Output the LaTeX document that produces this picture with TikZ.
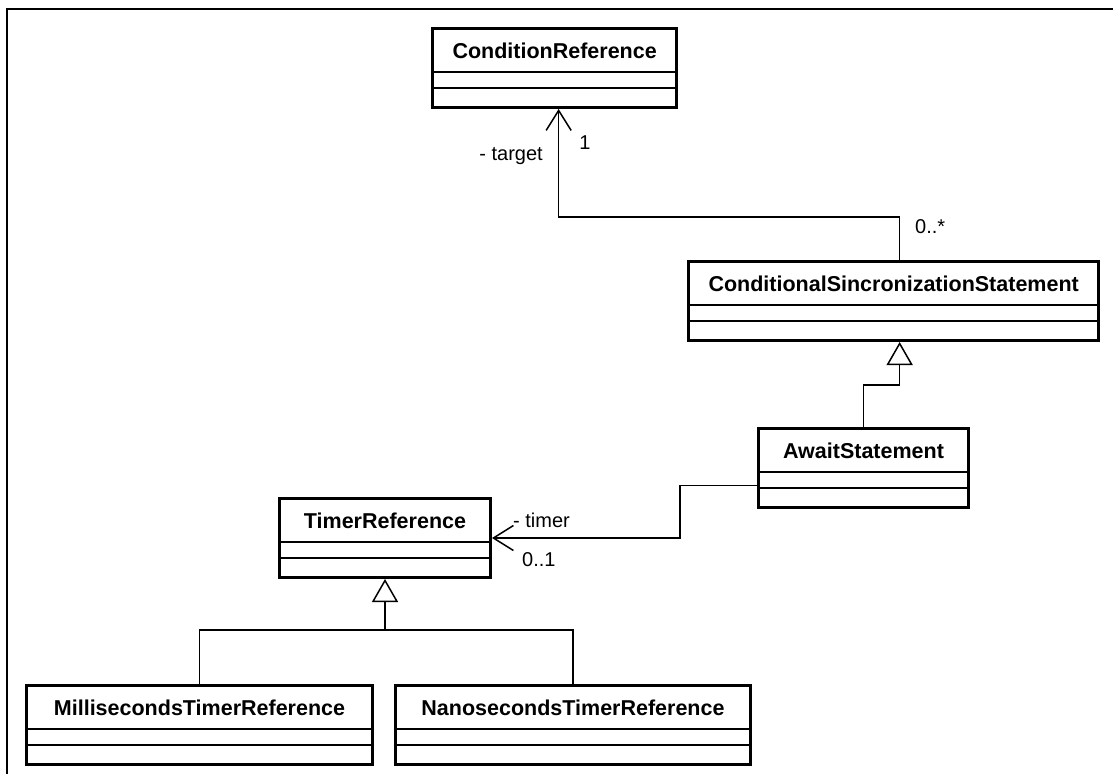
\documentclass[tikz,border=0pt]{standalone}
\usepackage{fontspec}
\setmainfont{Liberation Sans}
\usetikzlibrary{calc,arrows.meta}

\begin{document}
\begin{tikzpicture}[x=1pt,y=-1pt,
    classbox/.style={draw,line width=3pt,anchor=north west,inner xsep=20pt,inner ysep=0pt,
      text height=29.5pt,text depth=49.5pt,font=\fontsize{21.5}{24}\selectfont\bfseries},
    lbl/.style={font=\fontsize{20}{24}\selectfont,inner sep=0pt},
    assoc/.style={line width=1.5pt,-{Straight Barb[length=20pt,width=25pt,line width=1.5pt]}},
    gen/.style={line width=1.5pt,-{Triangle[open,length=23pt,width=26pt,line width=1.5pt,fill=white]}}]
          \useasboundingbox (0,0) rectangle (1113,774);
          \draw[line width=2pt] (7,774) -- (7,9) -- (1113,9);
          % classes
          \node[classbox] (cr) at (431,27) {ConditionReference};
          \node[classbox,minimum width=410pt] (css) at (687,260) {ConditionalSincronizationStatement};
          \node[classbox,minimum width=210pt] (aw) at (757,427) {AwaitStatement};
          \node[classbox,minimum width=211pt] (tr) at (278,497) {TimerReference};
          \node[classbox,minimum width=346pt] (ms) at (25,684) {MillisecondsTimerReference};
          \node[classbox,minimum width=355pt] (ns) at (394,684) {NanosecondsTimerReference};
          \foreach \n in {cr,css,aw,tr,ms,ns}{
            \draw[line width=1.5pt] ($(\n.north west)+(0,45)$) -- ($(\n.north east)+(0,45)$);
            \draw[line width=1.5pt] ($(\n.north west)+(0,61)$) -- ($(\n.north east)+(0,61)$);
          }
          % associations
          \draw[assoc] ([xshift=6pt]css.north) -- ++(0,-43) -| ([xshift=4pt]cr.south);
          \draw[assoc] ([yshift=-17.5pt]aw.west) -- ++(-77,0) |- (tr.east);
          % generalizations
          \draw[gen] (aw.north) -- ++(0,-42) -| ([xshift=6pt]css.south);
          \coordinate (split) at ($(tr.south)+(0,51)$);
          \draw[line width=1.5pt] (ms.north) |- (split) -| (ns.north);
          \draw[gen] (split) -- (tr.south);
          % labels
          \node[lbl,anchor=east] (target) at (543,156) {- target};
          \node[lbl] (one) at (585,143) {1};
          \node[lbl,anchor=west] (many) at (915,227) {0..*};
          \node[lbl,anchor=west] (timer) at (513,520) {- timer};
          \node[lbl,anchor=west] (opt) at (522,560) {0..1};
        \end{tikzpicture}
\end{document}
